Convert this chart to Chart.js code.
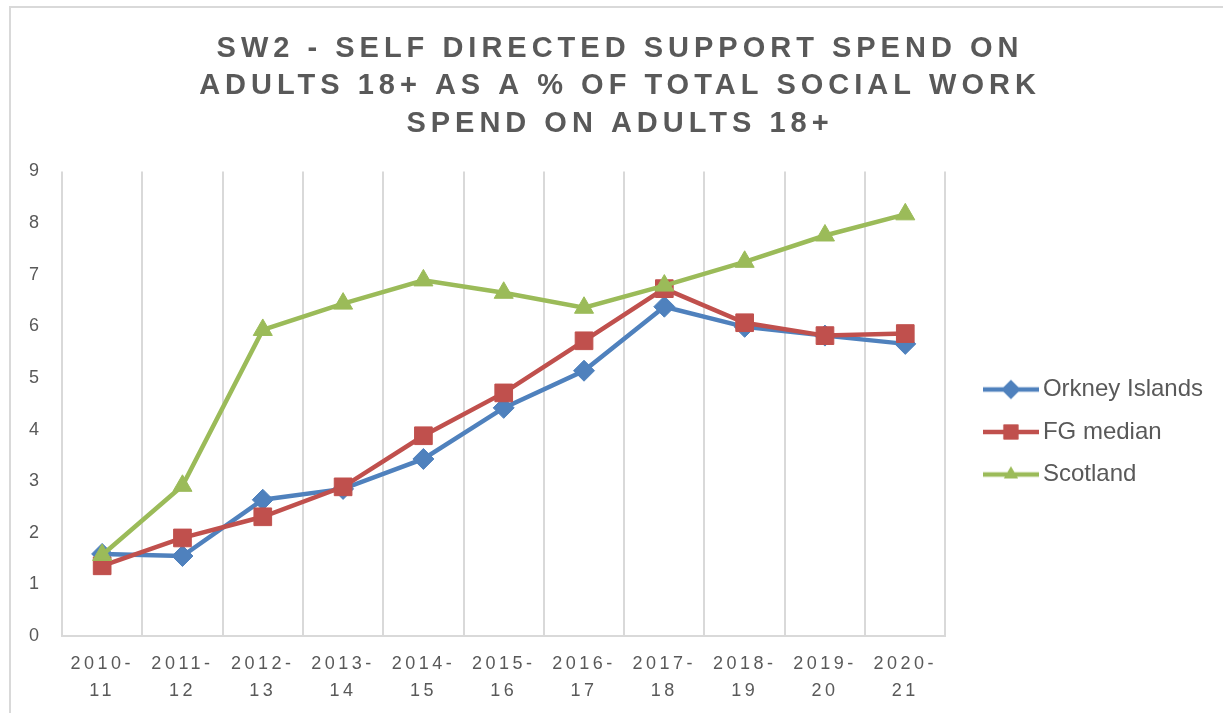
<!DOCTYPE html>
<html>
<head>
<meta charset="utf-8">
<script src="https://cdn.jsdelivr.net/npm/chart.js@4"></script>
<style>
  html, body { margin: 0; padding: 0; background: #fff; overflow: hidden; }
  #frame {
    position: absolute; left: 9px; top: 6px;
    width: 1218px; height: 707px;
    border-top: 2px solid #d9d9d9; border-left: 2px solid #d9d9d9;
  }
</style>
</head>
<body>
<div id="frame"><canvas id="myChart" width="1218" height="705"></canvas></div>
<script>
var titleLines = ["SW2 - SELF DIRECTED SUPPORT SPEND ON", "ADULTS 18+ AS A % OF TOTAL SOCIAL WORK", "SPEND ON ADULTS 18+"];
var years = [["2010-", "11"], ["2011-", "12"], ["2012-", "13"], ["2013-", "14"], ["2014-", "15"], ["2015-", "16"],
    ["2016-", "17"], ["2017-", "18"], ["2018-", "19"], ["2019-", "20"], ["2020-", "21"]];
var orkney = [1.59, 1.55, 2.64, 2.85, 3.43, 4.42, 5.14, 6.38, 5.99, 5.82, 5.66];
var fgMedian = [1.36, 1.90, 2.31, 2.89, 3.88, 4.71, 5.72, 6.73, 6.07, 5.82, 5.86];
var scotland = [1.57, 2.91, 5.93, 6.44, 6.89, 6.65, 6.36, 6.79, 7.25, 7.76, 8.17];
var yTicks = [0, 1, 2, 3, 4, 5, 6, 7, 8, 9];

var FONT = "'Liberation Sans', Arial, sans-serif";
var GREY = "#595959";

// little line + marker picture for the legend
function legendPic(color, style, r) {
    let c = document.createElement("canvas");
    c.width = 56; c.height = 26;
    let ctx = c.getContext("2d");
    ctx.strokeStyle = color;
    ctx.lineWidth = 4.5;
    ctx.beginPath(); ctx.moveTo(0, 13); ctx.lineTo(56, 13); ctx.stroke();
    ctx.fillStyle = color;
    Chart.helpers.drawPoint(ctx, { pointStyle: style, radius: r, borderWidth: 0, rotation: 0 }, 28, 13);
    ctx.fill();
    return c;
}

var tweaks = {
    id: "tweaks",
    afterLayout(chart) {
        // legend sits a bit further right and lower, like the excel one
        let lg = chart.legend;
        let h = lg.bottom - lg.top;
        lg.top = 424 - h / 2;
        lg.bottom = lg.top + h;
        lg.left += 27;
        lg.right += 27;
        // title centred on the whole frame
        let t = chart.titleBlock;
        t.left = 0;
        t.right = chart.width;
    },
    beforeDraw(chart) {
        if (chart._spaced) return;
        chart._spaced = true;
        let x = chart.scales.x;
        let orig = x.drawLabels;
        x.drawLabels = function (area) {
            this.ctx.save();
            this.ctx.letterSpacing = "3.5px";
            orig.call(this, area);
            this.ctx.restore();
        };
        let t = chart.titleBlock;
        let origT = t.draw;
        t.draw = function () {
            this.ctx.save();
            this.ctx.letterSpacing = "5px";
            origT.call(this);
            this.ctx.restore();
        };
    }
};

var sets = [
    { label: "Orkney Islands", data: orkney, color: "#4F81BD", style: "rectRot", r: 10.5, lr: 9.5, order: 3 },
    { label: "FG median", data: fgMedian, color: "#C0504D", style: "rect", r: 12.5, lr: 10.5, order: 2 },
    { label: "Scotland", data: scotland, color: "#9BBB59", style: "triangle", r: 11, lr: 8, order: 1 }
];

new Chart("myChart", {
    type: "line",
    data: {
        labels: years,
        datasets: sets.map(s => ({
            label: s.label,
            data: s.data,
            borderColor: s.color,
            backgroundColor: s.color,
            borderWidth: 4.5,
            pointStyle: s.style,
            pointRadius: s.r,
            pointHoverRadius: s.r,
            pointBorderWidth: 1,
            pointBorderColor: s.color,
            pointBackgroundColor: s.color,
            order: s.order,
            fill: false,
            tension: 0
        }))
    },
    options: {
        responsive: false,
        animation: false,
        layout: { padding: { left: 0, right: 43, top: 0, bottom: 0 } },
        plugins: {
            title: {
                display: true,
                text: titleLines,
                color: GREY,
                font: { family: FONT, size: 29, weight: "bold", lineHeight: 1.293 },
                padding: { top: 22, bottom: 29 }
            },
            legend: {
                position: "right",
                labels: {
                    color: GREY,
                    font: { family: FONT, size: 24 },
                    usePointStyle: true,
                    pointStyleWidth: 40,
                    padding: 18.5,
                    generateLabels: function (chart) {
                        return sets.map((s, i) => ({
                            text: s.label,
                            fontColor: GREY,
                            pointStyle: legendPic(s.color, s.style, s.lr),
                            datasetIndex: i,
                            hidden: false,
                            lineWidth: 0
                        }));
                    }
                }
            },
            tooltip: { enabled: false }
        },
        scales: {
            x: {
                offset: true,
                grid: { offset: true, color: "#d9d9d9", lineWidth: 2, drawTicks: false },
                border: { color: "#d9d9d9", width: 2 },
                ticks: { color: GREY, font: { family: FONT, size: 18, lineHeight: 1.5 }, padding: 15, maxRotation: 0, autoSkip: false },
                afterFit: function (scale) { scale.height = 77; }
            },
            y: {
                min: 0,
                max: 9,
                afterBuildTicks: function (scale) { scale.ticks = yTicks.map(v => ({ value: v })); },
                grid: { display: false, drawTicks: false },
                border: { display: false },
                ticks: { color: GREY, font: { family: FONT, size: 18 }, padding: 23 },
                afterFit: function (scale) { scale.width = 51; }
            }
        }
    },
    plugins: [tweaks]
});
</script>
</body>
</html>
